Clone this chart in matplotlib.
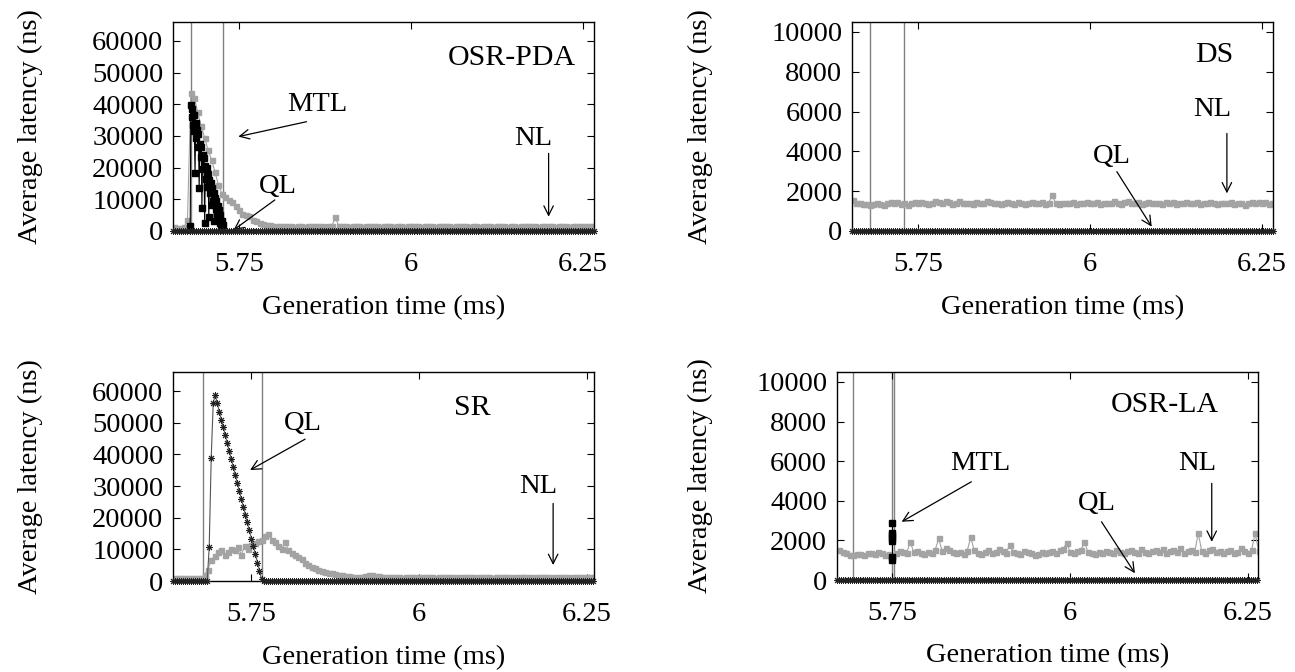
import matplotlib
matplotlib.use('Agg')
import matplotlib.pyplot as plt
import numpy as np

plt.rcParams['font.family'] = ['Liberation Serif', 'DejaVu Serif']

#eixo x comum
x_ticks = [5.75, 6, 6.25]
x_tick_labels = ['5.75', '6', '6.25']
nl_step = 0.005
ql_step = 0.003

#OSR-PDA (top-left)
pda_xlim = (5.654, 6.266)
pda_ylim = (0, 66000)
pda_nl_start = 5.655
pda_nl = [1100, 1000, 1050, 1150,
          3400,
          43500, 42000, 37500, 33000, 29500, 25500, 22500, 18700, 14500, 11800,
          10800, 9700, 9200, 7800, 6500, 5500, 5100, 4600, 3600, 3000,
          2600, 2300, 2000, 1800, 1700,
          1600, 1500, 1700, 1450, 1550, 1400, 1650, 1500, 1350, 1600,
          1500, 1450, 1700, 1550, 1400, 1500, 1600, 4300, 1500, 1450,
          1550, 1400, 1500, 1650, 1450, 1350, 1500, 1600, 1450, 1550,
          1400, 1500, 1700, 1450, 1350, 1550, 1500, 1400, 1600, 1450,
          1500, 1650, 1400, 1550, 1450, 1500, 1350, 1600, 1500, 1450,
          1550, 1400, 1500, 1700, 1450, 1500, 1350, 1550, 1600, 1400,
          1500, 1450, 1550, 1400, 1650, 1500, 1450, 1350, 1550, 1500,
          1400, 1600, 1500, 1450, 1550, 1700, 1400, 1500, 1450, 1550,
          1500, 1400, 1650, 1450, 1500, 1350, 1550, 1700, 1450, 1500,
          1600, 1450, 1500]
pda_mtl_t = [5.679, 5.680, 5.681, 5.682, 5.683, 5.684, 5.685, 5.686, 5.687, 5.688,
             5.689, 5.690, 5.691, 5.692, 5.693, 5.694, 5.695, 5.696, 5.697, 5.698,
             5.699, 5.700, 5.701, 5.702, 5.703, 5.704, 5.705, 5.706, 5.707, 5.708,
             5.709, 5.710, 5.711, 5.712, 5.713, 5.714, 5.715, 5.716, 5.717, 5.718,
             5.719, 5.720, 5.721, 5.722, 5.723, 5.724, 5.725, 5.726]
pda_mtl = [1700, 39800, 36000, 38500, 33500, 36500, 31500, 18400, 34000, 29500,
           32000, 26500, 30500, 13500, 27500, 23500, 26500, 7200, 24000, 19500,
           23000, 2400, 20500, 16500, 20000, 14000, 18000, 4500, 16000, 12000,
           15000, 8200, 13500, 9500, 12000, 3000, 10500, 7000, 9500, 5500,
           8000, 4000, 6500, 2500, 5000, 1500, 3000, 2000]
pda_ql = [0] * 205
pda_vlines = [5.680, 5.726]

#DS (top-right)
ds_xlim = (5.654, 6.266)
ds_ylim = (0, 10500)
ds_nl_start = 5.655
ds_nl = [1560, 1420, 1380, 1330, 1350, 1310, 1370, 1400, 1340, 1300,
         1380, 1440, 1390, 1470, 1350, 1400, 1320, 1380, 1450, 1410,
         1480, 1390, 1350, 1420, 1500, 1460, 1380, 1530, 1440, 1360,
         1420, 1490, 1380, 1430, 1400, 1350, 1470, 1420, 1380, 1520,
         1450, 1390, 1410, 1360, 1430, 1480, 1400, 1370, 1440, 1390,
         1350, 1420, 1460, 1380, 1400, 1440, 1370, 1420, 1800, 1390,
         1340, 1430, 1410, 1380, 1470, 1360, 1420, 1390, 1450, 1380,
         1420, 1470, 1350, 1400, 1430, 1380, 1490, 1410, 1360, 1440,
         1500, 1420, 1390, 1460, 1370, 1410, 1450, 1380, 1430, 1400,
         1360, 1440, 1400, 1470, 1350, 1420, 1390, 1450, 1380, 1410,
         1460, 1370, 1420, 1390, 1440, 1400, 1360, 1430, 1410, 1380,
         1450, 1340, 1420, 1390, 1300, 1410, 1470, 1380, 1440, 1400,
         1480, 1370, 1430]
ds_ql = [0] * 205
ds_vlines = [5.680, 5.729]

#SR (bottom-left)
sr_xlim = (5.633, 6.261)
sr_ylim = (0, 66000)
sr_nl_start = 5.635
sr_nl = [1100, 1050, 1000, 1080, 1020, 1060, 1000, 1040, 1100,
         1800, 3500, 6600, 7800, 9200, 9800, 8200, 9300, 10100, 9700,
         10800, 8300, 11000, 10200, 11400, 11900, 12600, 13000, 14300, 15000,
         12800, 12400, 11200, 10100, 12400, 9800, 8700, 8100, 7600, 6800,
         5600, 5000, 4500, 4000, 3500, 3100, 2900, 2600, 2400, 2300,
         2000, 1800, 1600, 1500, 1400,
         1300, 1250, 1400, 1600, 1800, 1900, 1700, 1500, 1300, 1200,
         1250, 1150, 1300, 1200, 1100, 1250, 1150, 1300, 1200, 1100,
         1200, 1300, 1150, 1250, 1100, 1200, 1350, 1150, 1250, 1200,
         1100, 1250, 1200, 1300, 1150, 1200, 1100, 1250, 1300, 1150,
         1200, 1100, 1250, 1150, 1300, 1200, 1250, 1100, 1200, 1350,
         1150, 1250, 1200, 1100, 1300, 1200, 1150, 1250, 1200, 1100,
         1250, 1300, 1150, 1200, 1100, 1250, 1200, 1350, 1150, 1200,
         1250, 1200]
sr_ql_peak = [10800, 39000, 56300, 58700, 56100,
              53500, 51000, 48600, 46000, 43500, 41000, 38500, 36000, 33400, 31000,
              28500, 26000, 23400, 21000, 18500, 16000, 13400, 10900, 8400, 5800,
              3200, 700]
sr_ql = [0] * 18 + sr_ql_peak + [0] * 165
sr_vlines = [5.678, 5.766]

#OSR-LA (bottom-right)
la_xlim = (5.672, 6.264)
la_ylim = (0, 10500)
la_nl_start = 5.675
la_nl = [1500, 1420, 1350, 1280, 1250, 1300, 1320, 1280, 1350, 1380,
         1300, 1420, 1350, 1250, 1300, 1200, 1380, 1450, 1400, 1350,
         1930, 1400, 1480, 1350, 1300, 1420, 1380, 1500, 2100, 1450,
         1600, 1500, 1420, 1350, 1400, 1300, 1450, 2160, 1500, 1380,
         1300, 1420, 1500, 1350, 1400, 1550, 1450, 1380, 1770, 1400,
         1350, 1300, 1450, 1420, 1380, 1250, 1300, 1400, 1350, 1420,
         1450, 1380, 1500, 1550, 1880, 1400, 1350, 1450, 1500, 1930,
         1400, 1350, 1300, 1420, 1380, 1450, 1400, 1350, 1500, 1420,
         1380, 1450, 1500, 1400, 1350, 1550, 1420, 1380, 1450, 1500,
         1400, 1550, 1350, 1450, 1500, 1420, 1600, 1380, 1450, 1500,
         1400, 2360, 1450, 1350, 1500, 1550, 1420, 1480, 1380, 1450,
         1500, 1350, 1420, 1600, 1450, 1380, 1500, 2360, 1450]
la_mtl_t = [5.750, 5.750, 5.750, 5.750, 5.750, 5.750, 5.750]
la_mtl = [1010, 1180, 1950, 2100, 2250, 2360, 2860]
la_ql = [0] * 198
la_vlines = [5.695, 5.7487, 5.7524]

fs = 20.5
fs_title = 21.5
gray = '#a3a3a3'

fig = plt.figure(figsize=(12.95, 6.72), dpi=100)
ax1 = fig.add_axes([0.1336, 0.6563, 0.3251, 0.3110])
ax2 = fig.add_axes([0.6579, 0.6563, 0.3251, 0.3110])
ax3 = fig.add_axes([0.1336, 0.1354, 0.3251, 0.3110])
ax4 = fig.add_axes([0.6463, 0.1369, 0.3251, 0.3095])


def arrow(ax, start, end):
    ax.annotate('', xy=end, xytext=start,
                arrowprops=dict(arrowstyle='->', color='black', lw=0.9,
                                shrinkA=0, shrinkB=0, mutation_scale=17))


def panel(ax, xlim, ylim, yticks, vlines, nl_start, nl, ql_start, ql, ylab_x):
    for v in vlines:
        ax.axvline(v, color='#808080', lw=1.0, zorder=1)
    t_nl = nl_start + nl_step * np.arange(len(nl))
    ax.plot(t_nl, nl, color=gray, lw=0.8, marker='s', markersize=3.6,
            markerfacecolor=gray, markeredgecolor=gray, zorder=2)
    t_ql = ql_start + ql_step * np.arange(len(ql))
    ax.plot(t_ql, ql, color='#555555', lw=0.8, marker=(8, 2, 0), markersize=5,
            markeredgecolor='#222222', markeredgewidth=0.7, zorder=4, clip_on=False)
    ax.set_xlim(*xlim)
    ax.set_ylim(*ylim)
    ax.set_xticks(x_ticks, x_tick_labels)
    ax.set_yticks(yticks)
    ax.tick_params(direction='in', top=True, right=True, length=5, width=0.8,
                   labelsize=fs)
    ax.tick_params(axis='x', pad=15)
    ax.tick_params(axis='y', pad=7)
    for s in ax.spines.values():
        s.set_linewidth(1.0)
    ax.set_xlabel('Generation time (ms)', fontsize=fs)
    ax.set_ylabel('Average latency (ns)', fontsize=fs)
    ax.xaxis.set_label_coords(0.5, -0.305)
    ax.yaxis.set_label_coords(ylab_x, 0.5)


big_ticks = [0, 10000, 20000, 30000, 40000, 50000, 60000]
small_ticks = [0, 2000, 4000, 6000, 8000, 10000]

#grafico 1 - OSR-PDA
panel(ax1, pda_xlim, pda_ylim, big_ticks, pda_vlines, pda_nl_start, pda_nl,
      pda_xlim[0], pda_ql, -0.31)
ax1.plot(pda_mtl_t, pda_mtl, color='black', lw=0.8, marker='s', markersize=4,
         zorder=3)
ax1.text(0.957, 0.828, 'OSR-PDA', transform=ax1.transAxes, ha='right', va='center', fontsize=fs_title)
ax1.text(5.863, 39800, 'MTL', ha='center', va='center', fontsize=fs)
arrow(ax1, (5.848, 34500), (5.749, 29800))
ax1.text(5.807, 14000, 'QL', ha='center', va='center', fontsize=fs)
arrow(ax1, (5.802, 9800), (5.742, 300))
ax1.text(6.177, 29300, 'NL', ha='center', va='center', fontsize=fs)
arrow(ax1, (6.2, 24500), (6.2, 4500))

#grafico 2 - DS
panel(ax2, ds_xlim, ds_ylim, small_ticks, ds_vlines, ds_nl_start, ds_nl,
      ds_xlim[0], ds_ql, -0.33)
ax2.text(0.905, 0.842, 'DS', transform=ax2.transAxes, ha='right', va='center', fontsize=fs_title)
ax2.text(6.0315, 3730, 'QL', ha='center', va='center', fontsize=fs)
arrow(ax2, (6.039, 2980), (6.0897, 216))
ax2.text(6.177, 6080, 'NL', ha='center', va='center', fontsize=fs)
arrow(ax2, (6.199, 4900), (6.199, 1890))

#grafico 3 - SR
panel(ax3, sr_xlim, sr_ylim, big_ticks, sr_vlines, sr_nl_start, sr_nl,
      sr_xlim[0], sr_ql, -0.31)
ax3.text(0.71, 0.828, 'SR', transform=ax3.transAxes, ha='center', va='center', fontsize=fs_title)
ax3.text(5.827, 49800, 'QL', ha='center', va='center', fontsize=fs)
arrow(ax3, (5.830, 44800), (5.748, 35050))
ax3.text(6.178, 29800, 'NL', ha='center', va='center', fontsize=fs)
arrow(ax3, (6.200, 24500), (6.200, 5050))

#grafico 4 - OSR-LA
panel(ax4, la_xlim, la_ylim, small_ticks, la_vlines, la_nl_start, la_nl,
      la_xlim[0], la_ql, -0.295)
ax4.plot(la_mtl_t, la_mtl, color='black', lw=0.8, marker='s', markersize=4,
         zorder=3)
ax4.text(0.907, 0.841, 'OSR-LA', transform=ax4.transAxes, ha='right', va='center', fontsize=fs_title)
ax4.text(5.873, 5890, 'MTL', ha='center', va='center', fontsize=fs)
arrow(ax4, (5.861, 4960), (5.763, 2940))
ax4.text(6.037, 3870, 'QL', ha='center', va='center', fontsize=fs)
arrow(ax4, (6.044, 2940), (6.091, 340))
ax4.text(6.178, 5890, 'NL', ha='center', va='center', fontsize=fs)
arrow(ax4, (6.199, 4880), (6.199, 1930))

fig.savefig('out.png', dpi=100)
